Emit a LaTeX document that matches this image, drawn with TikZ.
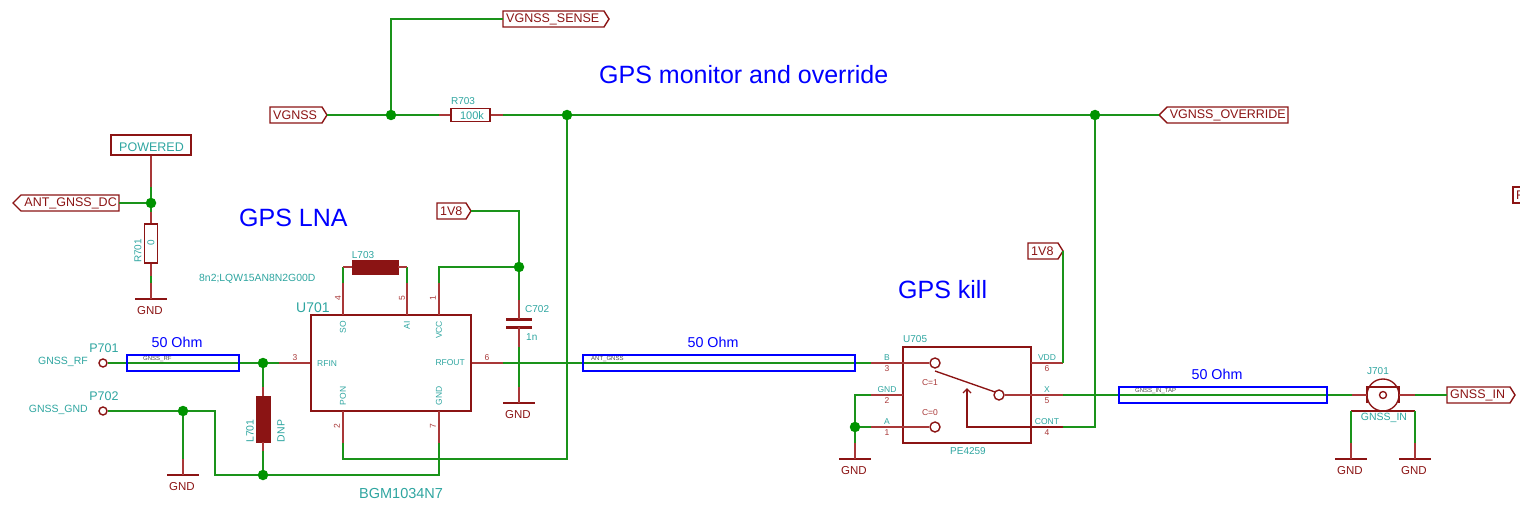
\documentclass[tikz,border=0pt]{standalone}
\usepackage{fontspec}
\setmainfont{Liberation Sans}
\definecolor{wirec}{HTML}{1A931A}
\definecolor{pinc}{HTML}{A83838}
\definecolor{symc}{HTML}{8B1414}
\definecolor{txtc}{HTML}{2EA5A0}
\definecolor{bluec}{HTML}{0000FF}
\newcommand{\fs}[1]{\fontsize{#1}{#1}\selectfont}
% flag pointing right: name, left x, tip x, y, text
\newcommand{\flagR}[5]{%
  \draw[flag] (#2,#4-8) -- (#3-5,#4-8) -- (#3,#4) -- (#3-5,#4+8) -- (#2,#4+8) -- cycle;
  \node[flagtxt,anchor=west] at (#2+3,#4) {#5};
  \coordinate (#1) at (#3,#4);}
% flag pointing left: name, tip x, right x, y, text
\newcommand{\flagL}[5]{%
  \draw[flag] (#3,#4-8) -- (#2+8,#4-8) -- (#2,#4) -- (#2+8,#4+8) -- (#3,#4+8) -- cycle;
  \node[flagtxt,anchor=east] at (#3-2,#4) {#5};
  \coordinate (#1) at (#3,#4);}
% ground: name of the top point, x, y of bar
\newcommand{\gnd}[3]{%
  \coordinate (#1) at (#2,#3);
  \draw[sym] (#2-16,#3) -- (#2+16,#3);
  \node[gndtxt] at (#2-1,#3+12) {GND};}
\tikzset{
  x=1pt,y=-1pt,
  wire/.style={draw=wirec,line width=1.35pt},
  pin/.style={draw=pinc,line width=1.35pt},
  sym/.style={draw=symc,line width=1.35pt},
  flag/.style={draw=symc,line width=1.4pt,fill=white},
  flagtxt/.style={text=symc,inner sep=0pt,font=\fs{12.5}},
  gndtxt/.style={text=symc,inner sep=0pt,font=\fs{11.5}},
  lab/.style={text=txtc,inner sep=0pt,font=\fs{10}},
  small/.style={text=txtc,inner sep=0pt,font=\fs{8.5}},
  smallred/.style={text=pinc,inner sep=0pt,font=\fs{8.5}},
  big/.style={text=txtc,inner sep=0pt,font=\fs{14.5}},
  title/.style={text=bluec,inner sep=0pt,font=\fs{25}},
  ohm/.style={text=bluec,inner sep=0pt,font=\fs{14.3}},
  net/.style={text=black!70,inner sep=0pt,font=\fs{6},anchor=base west},
  dot/.style={circle,fill=green!50!black!85!green,draw=none,minimum size=10.5pt,inner sep=0pt},
  trace/.style={draw=bluec,line width=1.3pt},
  chip/.style={draw=symc,line width=1.35pt,inner sep=0pt,fill=none},
  term/.style={circle,draw=symc,line width=1.4pt,fill=white,inner sep=0pt},
  solid body/.style={fill=symc,draw=symc,inner sep=0pt},
}
\begin{document}
\begin{tikzpicture}
\useasboundingbox (0,0) rectangle (1520,508);
\clip (0,0) rectangle (1520,508);

% junctions
\node[dot] (j1) at (391,115) {};
\node[dot] (j2) at (567,115) {};
\node[dot] (j3) at (1095,115) {};
\node[dot] (j4) at (151,203) {};
\node[dot] (j5) at (519,267) {};
\node[dot] (j6) at (263,363) {};
\node[dot] (j7) at (183,411) {};
\node[dot] (j8) at (263,475) {};
\node[dot] (j9) at (855,427) {};

% titles
\node[title,anchor=west] (t1) at (599,75) {GPS monitor and override};
\node[title,anchor=west] (t2) at (239,218) {GPS LNA};
\node[title,anchor=west] (t3) at (898,290) {GPS kill};

% flags
\flagR{fvg}{270}{327}{115}{VGNSS}
\flagR{fsense}{503}{609}{19}{VGNSS\_SENSE}
\flagL{fover}{1159}{1288}{115}{VGNSS\_OVERRIDE}
\coordinate (foverp) at (1159,115);
\flagL{fant}{13}{119}{203}{ANT\_GNSS\_DC}
\flagR{f18a}{437}{471}{211}{1V8}
\flagR{f18b}{1028}{1063}{251}{1V8}
\flagR{fin}{1447}{1515}{395}{GNSS\_IN}
\draw[flag] (1524,187) -- (1513,187) -- (1513,203) -- (1524,203);
\node[flagtxt,anchor=west] (fcut) at (1516,195) {F};

% POWERED
\node[draw=symc,line width=1.4pt,minimum width=80pt,minimum height=20pt,inner sep=0pt] (pw) at (151,145) {};
\node[text=txtc,inner sep=0pt,font=\fs{12.5}] at (151.5,147) {POWERED};

% R701
\node[draw=symc,line width=1.35pt,minimum width=13pt,minimum height=39pt,inner sep=0pt] (r701) at (151,243.5) {};
\node[lab,rotate=90,text=txtc] at (151,243) {0};
\node[lab,rotate=90] at (138,251) {R701};
\gnd{g1}{151}{299}
\coordinate (r701a) at (151,212);
\coordinate (r701b) at (151,276);
\coordinate (pwb) at (151,187);
\coordinate (g1a) at (151,283);
\draw[pin] (pw.south) -- (pwb);
\draw[wire] (pwb) -- (j4);
\draw[wire] (fant) -- (j4);
\draw[wire] (j4) -- (r701a);
\draw[pin] (r701a) -- (r701.north);
\draw[pin] (r701.south) -- (r701b);
\draw[wire] (r701b) -- (g1a);
\draw[pin] (g1a) -- (g1);

% top net
\node[draw=symc,line width=1.35pt,minimum width=39pt,minimum height=13pt,inner sep=0pt] (r703) at (470.5,115) {};
\node[lab,font=\fs{11}] at (472,115.5) {100k};
\node[lab] at (463,101) {R703};
\coordinate (r703a) at (439,115);
\coordinate (r703b) at (503,115);
\coordinate (sense) at (391,19);
\draw[wire] (fvg) -- (j1);
\draw[wire] (j1) -- (sense) -- (503,19);
\draw[wire] (j1) -- (r703a);
\draw[pin] (r703a) -- (r703.west);
\draw[pin] (r703.east) -- (r703b);
\draw[wire] (r703b) -- (j2);
\draw[wire] (j2) -- (j3);
\draw[wire] (j3) -- (foverp);

% U701
\node[chip,minimum width=160pt,minimum height=96pt] (u701) at (391,363) {};
\node[big,font=\fs{14},anchor=west] at (296,308) {U701};
\node[big,anchor=west] at (359,494) {BGM1034N7};
\node[small,rotate=90] at (343,327) {SO};
\node[small,rotate=90] at (407,325) {AI};
\node[small,rotate=90] at (439,330) {VCC};
\node[small,rotate=90] at (343,396) {PON};
\node[small,rotate=90] at (439,396) {GND};
\node[small,anchor=west] at (317,364) {RFIN};
\node[small,anchor=east] at (465,363) {RFOUT};
\node[smallred,rotate=90] at (338,298) {4};
\node[smallred,rotate=90] at (402,298) {5};
\node[smallred,rotate=90] at (433,298) {1};
\node[smallred,rotate=90] at (337,426) {2};
\node[smallred,rotate=90] at (433,426) {7};
\node[smallred] at (295,358) {3};
\node[smallred] at (487,358) {6};

% L703
\node[solid body,minimum width=46pt,minimum height=14pt] (l703) at (375,267) {};
\node[lab] at (363,255) {L703};
\node[lab,font=\fs{10.4},anchor=west] at (199,279) {8n2;LQW15AN8N2G00D};
\coordinate (so0) at (343,315);
\coordinate (so1) at (343,283);
\coordinate (so2) at (343,267);
\coordinate (ai0) at (407,315);
\coordinate (ai1) at (407,283);
\coordinate (ai2) at (407,267);
\coordinate (vc0) at (439,315);
\coordinate (vc1) at (439,283);
\coordinate (vc2) at (439,267);
\draw[pin] (so0) -- (so1);
\draw[wire] (so1) -- (so2);
\draw[pin] (so2) -- (l703.west);
\draw[pin] (ai0) -- (ai1);
\draw[wire] (ai1) -- (ai2);
\draw[pin] (ai2) -- (l703.east);
\draw[pin] (vc0) -- (vc1);
\draw[wire] (vc1) -- (vc2) -- (j5);
\coordinate (top18) at (519,211);
\draw[wire] (f18a) -- (top18) -- (j5);

% C702
\coordinate (c1) at (519,319);
\coordinate (c2) at (519,327);
\draw[symc,line width=3pt] (506,319) -- (532,319);
\draw[symc,line width=3pt] (506,327) -- (532,327);
\node[lab,anchor=west] at (525,309) {C702};
\node[lab,anchor=west] at (526,337) {1n};
\gnd{g2}{519}{403}
\coordinate (c1a) at (519,300);
\coordinate (c2a) at (519,347);
\coordinate (g2a) at (519,387);
\draw[wire] (j5) -- (c1a);
\draw[pin] (c1a) -- (c1);
\draw[pin] (c2) -- (c2a);
\draw[wire] (c2a) -- (g2a);
\draw[pin] (g2a) -- (g2);

% GPS LNA bottom wiring
\coordinate (po0) at (343,411);
\coordinate (po1) at (343,443);
\coordinate (po2) at (343,459);
\coordinate (po3) at (567,459);
\coordinate (gn0) at (439,411);
\coordinate (gn1) at (439,443);
\coordinate (gn2) at (439,475);
\draw[pin] (po0) -- (po1);
\draw[wire] (po1) -- (po2) -- (po3) -- (j2);
\draw[pin] (gn0) -- (gn1);
\draw[wire] (gn1) -- (gn2) -- (j8);

% P701 / P702
\node[term,minimum size=8pt] (p1) at (103,363) {};
\node[term,minimum size=8pt] (p2) at (103,411) {};
\node[big,font=\fs{12.5}] at (104,348) {P701};
\node[big,font=\fs{12.5}] at (104,396) {P702};
\node[lab,font=\fs{10.5},anchor=east] at (88,362) {GNSS\_RF};
\node[lab,font=\fs{10.5},anchor=east] at (88,410) {GNSS\_GND};
\coordinate (rf1) at (279,363);
\draw[wire] (p1) -- (j6);
\draw[wire] (j6) -- (rf1);
\draw[pin] (rf1) -- (u701.west |- rf1);
\node[trace,draw,minimum width=112pt,minimum height=16pt,inner sep=0pt] (tl1) at (183,363) {};
\node[ohm] at (177,342) {50 Ohm};
\node[net] at (143,360) {GNSS\_RF};

% L701
\node[solid body,minimum width=14pt,minimum height=46pt] (l701) at (263,419) {};
\node[lab,rotate=90,font=\fs{10.5}] at (250,431) {L701};
\node[lab,rotate=90,font=\fs{10.5}] at (281,431) {DNP};
\coordinate (l1a) at (263,387);
\coordinate (l1b) at (263,451);
\draw[wire] (j6) -- (l1a);
\draw[pin] (l1a) -- (l701.north);
\draw[pin] (l701.south) -- (l1b);
\draw[wire] (l1b) -- (j8);

\coordinate (c702w) at (215,411);
\coordinate (c702x) at (215,475);
\draw[wire] (p2) -- (j7);
\draw[wire] (j7) -- (c702w) -- (c702x) -- (j8);
\gnd{g3}{183}{475}
\coordinate (g3a) at (183,459);
\draw[wire] (j7) -- (g3a);
\draw[pin] (g3a) -- (g3);

% RF trace to switch
\coordinate (o6) at (503,363);
\coordinate (b1) at (871,363);
\draw[pin] (u701.east |- o6) -- (o6);
\draw[wire] (o6) -- (b1);
\node[trace,draw,minimum width=272pt,minimum height=16pt,inner sep=0pt] (tl2) at (719,363) {};
\node[ohm] at (713,342) {50 Ohm};
\node[net] at (591,360) {ANT\_GNSS};

% U705
\node[chip,minimum width=128pt,minimum height=96pt] (u705) at (967,395) {};
\node[lab,anchor=west] at (903,339) {U705};
\node[lab] at (968,451) {PE4259};
\node[term,minimum size=10pt] (sb) at (935,363) {};
\node[term,minimum size=10pt] (sa) at (935,427) {};
\node[term,minimum size=10pt] (sx) at (999,395) {};
\coordinate (lev1) at (935,371);
\coordinate (lev2) at (995,392);
\coordinate (cont) at (967,427);
\coordinate (conttip) at (967,389);
\draw[sym] (lev1) -- (lev2);
\draw[sym] (1063,427) -- (cont) -- (conttip);
\draw[sym] (963,393) -- (conttip) -- (971,393);
\draw[pin] (b1) -- (sb);
\coordinate (ga) at (871,395);
\coordinate (gb) at (855,395);
\coordinate (a1) at (871,427);
\coordinate (x1) at (1063,395);
\coordinate (v1) at (1063,363);
\coordinate (ct1) at (1063,427);
\coordinate (ct2) at (1095,427);
\draw[pin] (ga) -- (903,395);
\draw[pin] (a1) -- (sa);
\draw[pin] (sx) -- (x1);
\draw[pin] (1031,363) -- (v1);
\draw[wire] (ga) -- (gb) -- (j9);
\draw[wire] (j9) -- (a1);
\draw[wire] (v1) -- (f18b);
\draw[wire] (ct1) -- (ct2) -- (j3);
\gnd{g4}{855}{459}
\coordinate (g4a) at (855,443);
\draw[wire] (j9) -- (g4a);
\draw[pin] (g4a) -- (g4);
\node[smallred] at (930,383) {C=1};
\node[smallred] at (930,413) {C=0};
\node[small] at (887,358) {B};
\node[smallred] at (887,369) {3};
\node[small] at (887,390) {GND};
\node[smallred] at (887,401) {2};
\node[small] at (887,422) {A};
\node[smallred] at (887,433) {1};
\node[small] at (1047,358) {VDD};
\node[smallred] at (1047,369) {6};
\node[small] at (1047,390) {X};
\node[smallred] at (1047,401) {5};
\node[small] at (1047,422) {CONT};
\node[smallred] at (1047,433) {4};

% output trace and J701
\coordinate (jw) at (1352,395);
\coordinate (jl) at (1367,395);
\coordinate (jr) at (1399,395);
\coordinate (jo) at (1415,395);
\draw[wire] (x1) -- (jw);
\node[trace,draw,minimum width=208pt,minimum height=16pt,inner sep=0pt] (tl3) at (1223,395) {};
\node[ohm] at (1217,374) {50 Ohm};
\node[net] at (1135,392) {GNSS\_IN\_TAP};
\node[circle,draw=symc,line width=1.35pt,minimum size=32pt,inner sep=0pt] (j701) at (1383,395) {};
\node[circle,draw=symc,line width=1.35pt,minimum size=7pt,inner sep=0pt] (j701c) at (1383,395) {};
\draw[sym] (1367,403) -- (1367,387) -- (1399,387) -- (1399,403);
\draw[sym] (1351,411) -- (1415,411);
\draw[pin] (jw) -- (jl);
\draw[pin] (jr) -- (jo);
\draw[wire] (jo) -- (1447,395);
\node[lab] at (1378,371) {J701};
\node[lab,font=\fs{10.5}] at (1384,418) {GNSS\_IN};
\gnd{g5}{1351}{459}
\gnd{g6}{1415}{459}
\coordinate (g5a) at (1351,443);
\coordinate (g6a) at (1415,443);
\draw[wire] (1351,411) -- (g5a);
\draw[pin] (g5a) -- (g5);
\draw[wire] (1415,411) -- (g6a);
\draw[pin] (g6a) -- (g6);
\end{tikzpicture}
\end{document}
